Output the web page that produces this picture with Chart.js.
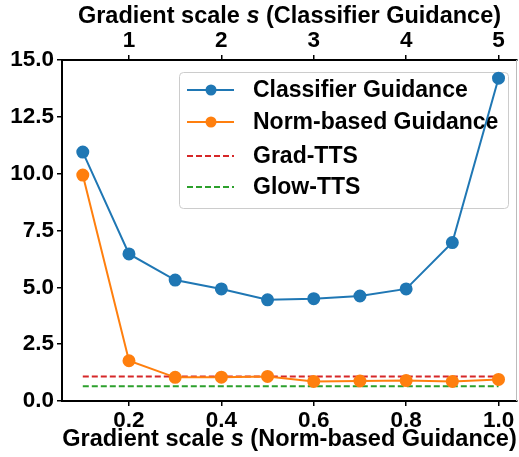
<!DOCTYPE html>
<html>
<head>
<meta charset="utf-8">
<script src="https://cdn.jsdelivr.net/npm/chart.js@4/dist/chart.umd.min.js"></script>
<style>
  html, body { margin: 0; padding: 0; background: #fff; }
  #wrap { width: 519px; height: 457px; }
</style>
</head>
<body>
<div id="wrap"><canvas id="chart" width="519" height="457"></canvas></div>
<script>
// data
const normScale = [0.1, 0.2, 0.3, 0.4, 0.5, 0.6, 0.7, 0.8, 0.9, 1.0];
const classifierScale = [0.5, 1.0, 1.5, 2.0, 2.5, 3.0, 3.5, 4.0, 4.5, 5.0];
const classifierValues = [10.95, 6.47, 5.32, 4.93, 4.45, 4.5, 4.62, 4.93, 6.97, 14.2];
const normValues = [9.94, 1.77, 1.04, 1.05, 1.08, 0.86, 0.88, 0.9, 0.86, 0.95];
const gradTTS = 1.08;
const glowTTS = 0.65;
const bottomTicks = [0.2, 0.4, 0.6, 0.8, 1.0];
const topTicks = [1, 2, 3, 4, 5];
const yTicks = [0, 2.5, 5, 7.5, 10, 12.5, 15];

const FONT = "'Liberation Sans', Arial, sans-serif";
const blue = '#1f77b4', orange = '#ff7f0e', red = '#d62728', green = '#2ca02c';

function pts(xs, ys) { return xs.map((x, i) => ({ x: x, y: ys[i] })); }
function flat(v) { return [{ x: normScale[0], y: v }, { x: normScale[normScale.length - 1], y: v }]; }

function setTicks(list) {
    return function (scale) { scale.ticks = list.map(v => ({ value: v })); };
}
function fixSize(prop, size) {
    return function (s) {
        s[prop] = size;
        s.paddingLeft = 0; s.paddingRight = 0; s.paddingTop = 0; s.paddingBottom = 0;
    };
}

// legend under the data, titles with italic "s", right spine
const extras = {
    id: 'extras',
    beforeDatasetsDraw(chart) {
        const ctx = chart.ctx;
        ctx.save();
        const bx = 179, by = 72, bw = 329, bh = 136;
        ctx.fillStyle = 'rgba(255,255,255,0.8)';
        ctx.strokeStyle = '#cccccc';
        ctx.lineWidth = 1;
        ctx.beginPath();
        ctx.roundRect(bx + 0.5, by + 0.5, bw, bh, 4);
        ctx.fill();
        ctx.stroke();
        const rows = [90, 122, 156, 187];
        chart.data.datasets.forEach((ds, i) => {
            const y = rows[i];
            ctx.strokeStyle = ds.borderColor;
            ctx.lineWidth = ds.borderWidth;
            ctx.setLineDash(ds.borderDash || []);
            ctx.beginPath();
            ctx.moveTo(187, y);
            ctx.lineTo(234, y);
            ctx.stroke();
            ctx.setLineDash([]);
            if (ds.pointRadius > 0) {
                ctx.fillStyle = ds.borderColor;
                ctx.beginPath();
                ctx.arc(211, y, ds.pointRadius, 0, Math.PI * 2);
                ctx.fill();
            }
            ctx.fillStyle = '#000';
            ctx.font = 'bold 23px ' + FONT;
            ctx.textAlign = 'left';
            ctx.textBaseline = 'middle';
            ctx.fillText(ds.label, 253, y + 1);
        });
        ctx.restore();
    },
    afterDraw(chart) {
        const ctx = chart.ctx;
        const a = chart.chartArea;
        ctx.save();
        ctx.strokeStyle = '#bbb';
        ctx.lineWidth = 1;
        ctx.beginPath();
        ctx.moveTo(a.right - 0.5, a.top);
        ctx.lineTo(a.right - 0.5, a.bottom);
        ctx.stroke();

        function title(parts, cx, cy) {
            ctx.textBaseline = 'middle';
            ctx.textAlign = 'left';
            let w = 0;
            parts.forEach(p => { ctx.font = p[1] + ' 23.5px ' + FONT; w += ctx.measureText(p[0]).width; });
            let x = cx - w / 2;
            parts.forEach(p => {
                ctx.font = p[1] + ' 23.5px ' + FONT;
                ctx.fillStyle = '#000';
                ctx.fillText(p[0], x, cy);
                x += ctx.measureText(p[0]).width;
            });
        }
        const cx = (a.left + a.right) / 2;
        title([['Gradient scale ', 'bold'], ['s', 'italic bold'], [' (Classifier Guidance)', 'bold']], cx, 17);
        title([['Gradient scale ', 'bold'], ['s', 'italic bold'], [' (Norm-based Guidance)', 'bold']], cx, 440);
        ctx.restore();
    }
};

const tickFont = { family: FONT, size: 22.5, weight: 'bold' };

new Chart(document.getElementById('chart'), {
    type: 'line',
    data: {
        datasets: [{
            label: 'Classifier Guidance',
            data: pts(classifierScale, classifierValues),
            xAxisID: 'x2',
            borderColor: blue,
            backgroundColor: blue,
            borderWidth: 2,
            pointRadius: 5.5,
            pointHoverRadius: 5.5
        }, {
            label: 'Norm-based Guidance',
            data: pts(normScale, normValues),
            xAxisID: 'x',
            borderColor: orange,
            backgroundColor: orange,
            borderWidth: 2,
            pointRadius: 5.5,
            pointHoverRadius: 5.5
        }, {
            label: 'Grad-TTS',
            data: flat(gradTTS),
            xAxisID: 'x',
            borderColor: red,
            borderWidth: 2,
            borderDash: [6, 3],
            pointRadius: 0
        }, {
            label: 'Glow-TTS',
            data: flat(glowTTS),
            xAxisID: 'x',
            borderColor: green,
            borderWidth: 2,
            borderDash: [6, 3],
            pointRadius: 0
        }]
    },
    options: {
        responsive: false,
        animation: false,
        events: [],
        layout: { autoPadding: false, padding: { left: 0, right: 2, top: 0, bottom: 0 } },
        plugins: { legend: { display: false }, tooltip: { enabled: false } },
        scales: {
            x: {
                type: 'linear',
                position: 'bottom',
                min: 0.055,
                max: 1.04,
                afterBuildTicks: setTicks(bottomTicks),
                afterFit: fixSize('height', 56),
                ticks: { font: tickFont, color: '#000', padding: 1, maxRotation: 0,
                         callback: v => v.toFixed(1) },
                grid: { drawOnChartArea: false, color: '#000', lineWidth: 1.5, tickLength: 5 },
                border: { display: true, color: '#000', width: 2 }
            },
            x2: {
                type: 'linear',
                position: 'top',
                min: 0.275,
                max: 5.2,
                afterBuildTicks: setTicks(topTicks),
                afterFit: fixSize('height', 60),
                ticks: { font: tickFont, color: '#000', padding: 1, maxRotation: 0,
                         callback: v => String(v) },
                grid: { drawOnChartArea: false, color: '#000', lineWidth: 1.5, tickLength: 5 },
                border: { display: true, color: '#000', width: 2 }
            },
            y: {
                min: 0,
                max: 15,
                afterBuildTicks: setTicks(yTicks),
                afterFit: fixSize('width', 62),
                ticks: { font: tickFont, color: '#000', padding: 3,
                         callback: v => v.toFixed(1) },
                grid: { drawOnChartArea: false, color: '#000', lineWidth: 1.5, tickLength: 5 },
                border: { display: true, color: '#000', width: 2 }
            }
        }
    },
    plugins: [extras]
});
</script>
</body>
</html>
